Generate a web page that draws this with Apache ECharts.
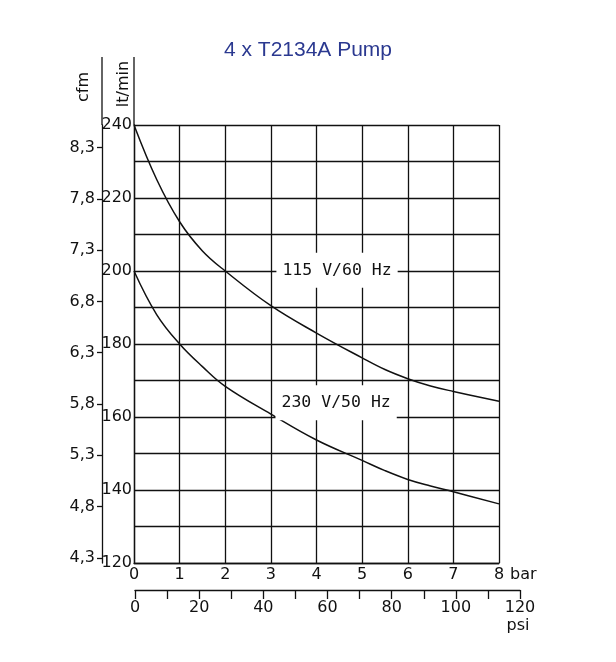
<!DOCTYPE html>
<html><head><meta charset="utf-8">
<script src="https://cdn.jsdelivr.net/npm/echarts@6/dist/echarts.min.js"></script>
<style>html,body{margin:0;padding:0;background:#fff}#c{width:616px;height:662px}</style>
</head><body><div id="c"></div><script>
const chartTitle = '4 x T2134A Pump';
const pressureBar = [0, 0.5, 1, 1.5, 2, 3, 4, 5, 5.5, 6, 6.5, 7, 8];
const flow115 = [240, 225, 213.5, 205.5, 200, 190.5, 183, 176.2, 173.0, 170.5, 168.5, 167.0, 164.3];
const flow230 = [200, 188, 180, 173.8, 168.4, 160.8, 153.7, 148.1, 145.3, 142.9, 141.1, 139.5, 136.2];
const label115 = '115 V/60 Hz';
const label230 = '230 V/50 Hz';
const label115At = [4.45, 200.2];
const label230At = [4.43, 163.9];
const cfmTicks = [4.3, 4.8, 5.3, 5.8, 6.3, 6.8, 7.3, 7.8, 8.3];
const cfmRange = [4.25, 8.52];
const ltRange = [120, 240];
const barRange = [0, 8];
const psiRange = [0, 120];

const ink = '#111';
const font = 'DejaVu Sans';
const lineW = 1.3;
const axisLine = {show: true, lineStyle: {color: ink, width: lineW}};
const txt = {color: ink, fontSize: 16, fontFamily: font};

const chart = echarts.init(document.getElementById('c'), null, {renderer: 'canvas'});
const mk = (text, at) => ({
  symbol: 'rect', symbolSize: 1, itemStyle: {color: 'rgba(0,0,0,0)'},
  silent: true,
  data: [{coord: at}],
  label: {show: true, position: 'inside', formatter: text, backgroundColor: '#fff',
    padding: [9, 6], color: ink, fontSize: 16.5, fontFamily: 'DejaVu Sans Mono'}
});
chart.setOption({
  animation: false,
  backgroundColor: '#fff',
  title: {text: chartTitle, left: 'center', top: 40, padding: 0,
    textStyle: {color: '#2b3990', fontSize: 21, fontWeight: 'normal', fontFamily: 'Liberation Sans'}},
  grid: [
    {left: 134, right: 117, top: 125, bottom: 99},
    {left: 135, right: 96, top: 589, bottom: 72}
  ],
  xAxis: [
    {gridIndex: 0, type: 'value', min: barRange[0], max: barRange[1], interval: 1,
      axisLine, axisTick: {show: false},
      splitLine: {show: true, lineStyle: {color: ink, width: lineW}},
      axisLabel: Object.assign({margin: 4}, txt),
      name: 'bar', nameLocation: 'end', nameGap: 9,
      nameTextStyle: Object.assign({align: 'left', verticalAlign: 'top', padding: [4, 0, 0, 0]}, txt)},
    {gridIndex: 1, type: 'value', min: psiRange[0], max: psiRange[1], interval: 10,
      axisLine, axisTick: {show: true, length: 9, lineStyle: {color: ink, width: lineW}},
      splitLine: {show: false},
      axisLabel: Object.assign({margin: 10, formatter: v => (v % 20 === 0 ? String(v) : '')}, txt),
      name: 'psi', nameLocation: 'end', nameGap: -2,
      nameTextStyle: Object.assign({align: 'center', verticalAlign: 'top', padding: [28, 0, 0, 0]}, txt)}
  ],
  yAxis: [
    {gridIndex: 0, type: 'value', min: ltRange[0], max: ltRange[1], interval: 10, position: 'left',
      axisLine, axisTick: {show: false},
      splitLine: {show: true, lineStyle: {color: ink, width: lineW}},
      axisLabel: Object.assign({margin: 2, formatter: v => (v % 20 === 0 ? String(v) : '')}, txt),
      name: 'lt/min', nameLocation: 'end', nameGap: 41, nameRotate: 90,
      nameTextStyle: Object.assign({align: 'center', verticalAlign: 'bottom', padding: [0, 0, 2, 0]}, txt)},
    {gridIndex: 0, type: 'value', min: cfmRange[0], max: cfmRange[1], position: 'left', offset: 32,
      axisLine, axisTick: {show: true, length: 5, customValues: cfmTicks, lineStyle: {color: ink, width: lineW}},
      splitLine: {show: false},
      axisLabel: Object.assign({margin: 7, customValues: cfmTicks,
        formatter: v => v.toFixed(1).replace('.', ',')}, txt),
      name: 'cfm', nameLocation: 'end', nameGap: 38, nameRotate: 90,
      nameTextStyle: Object.assign({align: 'center', verticalAlign: 'bottom', padding: [0, 0, 10, 0]}, txt)},
    {gridIndex: 1, type: 'value', show: false, min: 0, max: 1}
  ],
  graphic: [
    {type: 'line', shape: {x1: 134, y1: 57, x2: 134, y2: 125}, style: {stroke: ink, lineWidth: lineW}},
    {type: 'line', shape: {x1: 102, y1: 57, x2: 102, y2: 125}, style: {stroke: ink, lineWidth: lineW}}
  ],
  series: [
    {type: 'line', xAxisIndex: 0, yAxisIndex: 0, smooth: 0.4, symbol: 'none',
      data: pressureBar.map((p, i) => [p, flow115[i]]),
      lineStyle: {color: ink, width: 1.5}, markPoint: mk(label115, label115At)},
    {type: 'line', xAxisIndex: 0, yAxisIndex: 0, smooth: 0.4, symbol: 'none',
      data: pressureBar.map((p, i) => [p, flow230[i]]),
      lineStyle: {color: ink, width: 1.5}, markPoint: mk(label230, label230At)}
  ]
});
</script></body></html>
